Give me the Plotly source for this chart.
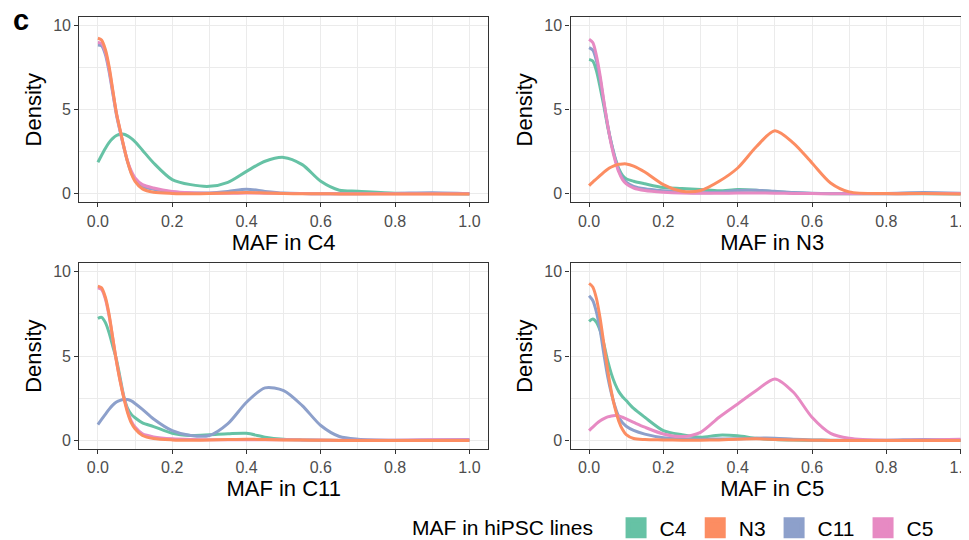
import plotly.graph_objects as go

# ---------------- data ----------------
X = [0.00, 0.01, 0.02, 0.03, 0.04, 0.05, 0.06, 0.07, 0.08, 0.09, 0.10, 0.12, 0.15,
     0.20, 0.25, 0.30, 0.35, 0.40, 0.45, 0.50, 0.55, 0.60, 0.65, 0.70, 0.80, 0.90, 1.00]

LINES = ["C4", "N3", "C11", "C5"]            # hiPSC lines (legend order)
PANELS = ["C4", "N3", "C11", "C5"]           # facets: "MAF in ..."
X_TICKS = [0.0, 0.2, 0.4, 0.6, 0.8, 1.0]
Y_TICKS = [0, 5, 10]

# facet "MAF in C4"
C4_C4 = [1.88, 2.30, 2.70, 3.05, 3.30, 3.47, 3.55, 3.55, 3.45, 3.30, 3.10, 2.60, 1.84,
         0.85, 0.55, 0.45, 0.69, 1.34, 1.94, 2.17, 1.74, 0.75, 0.22, 0.16, 0.04, 0.02, 0.00]
C4_N3 = [9.25, 9.15, 8.60, 7.60, 6.20, 4.80, 3.80, 2.80, 1.90, 1.20, 0.75, 0.30, 0.10,
         0.03, 0.01, 0.02, 0.05, 0.08, 0.05, 0.02, 0.01, 0.01, 0.00, 0.00, 0.00, 0.00, 0.00]
C4_C11 = [8.85, 8.80, 8.30, 7.30, 6.00, 4.70, 3.70, 2.75, 1.90, 1.25, 0.85, 0.45, 0.28,
          0.12, 0.06, 0.06, 0.15, 0.28, 0.15, 0.05, 0.02, 0.01, 0.01, 0.01, 0.03, 0.07, 0.02]
C4_C5 = [9.00, 8.95, 8.45, 7.45, 6.10, 4.80, 3.75, 2.80, 1.95, 1.35, 0.95, 0.55, 0.35,
         0.15, 0.07, 0.04, 0.04, 0.05, 0.04, 0.03, 0.02, 0.01, 0.01, 0.01, 0.01, 0.01, 0.01]

# facet "MAF in N3"
N3_C4 = [8.00, 7.90, 7.30, 6.30, 5.20, 4.00, 3.00, 2.15, 1.50, 1.10, 0.90, 0.75, 0.60,
         0.38, 0.32, 0.26, 0.18, 0.26, 0.22, 0.12, 0.06, 0.03, 0.01, 0.01, 0.01, 0.01, 0.00]
N3_N3 = [0.49, 0.70, 0.90, 1.10, 1.30, 1.47, 1.60, 1.70, 1.76, 1.78, 1.78, 1.65, 1.30,
         0.55, 0.16, 0.20, 0.75, 1.54, 2.80, 3.75, 3.02, 1.84, 0.65, 0.12, 0.02, 0.02, 0.00]
N3_C11 = [8.70, 8.55, 7.90, 6.80, 5.40, 4.10, 3.00, 2.10, 1.40, 0.95, 0.70, 0.45, 0.30,
          0.18, 0.10, 0.07, 0.10, 0.20, 0.22, 0.15, 0.08, 0.04, 0.02, 0.02, 0.03, 0.08, 0.04]
N3_C5 = [9.20, 9.00, 8.20, 7.00, 5.50, 4.10, 2.90, 2.00, 1.30, 0.85, 0.60, 0.35, 0.20,
         0.10, 0.05, 0.04, 0.04, 0.05, 0.05, 0.04, 0.03, 0.02, 0.01, 0.01, 0.01, 0.02, 0.02]

# facet "MAF in C11"
C11_C4 = [7.24, 7.30, 7.00, 6.40, 5.60, 4.80, 3.70, 2.60, 1.90, 1.55, 1.35, 1.05, 0.83,
          0.43, 0.30, 0.34, 0.40, 0.43, 0.20, 0.08, 0.04, 0.02, 0.01, 0.00, 0.00, 0.00, 0.00]
C11_N3 = [9.15, 9.05, 8.50, 7.50, 6.10, 4.70, 3.50, 2.50, 1.65, 1.05, 0.70, 0.30, 0.12,
          0.04, 0.02, 0.03, 0.06, 0.08, 0.06, 0.04, 0.03, 0.02, 0.01, 0.01, 0.00, 0.00, 0.00]
C11_C11 = [0.95, 1.25, 1.55, 1.85, 2.10, 2.28, 2.38, 2.43, 2.43, 2.35, 2.20, 1.85, 1.28,
           0.59, 0.30, 0.30, 1.00, 2.27, 3.12, 2.96, 2.07, 0.89, 0.24, 0.08, 0.02, 0.04, 0.06]
C11_C5 = [9.05, 8.95, 8.40, 7.40, 6.05, 4.70, 3.55, 2.55, 1.75, 1.15, 0.80, 0.40, 0.22,
          0.10, 0.06, 0.05, 0.05, 0.05, 0.05, 0.05, 0.04, 0.03, 0.02, 0.02, 0.02, 0.05, 0.05]

# facet "MAF in C5"
C5_C4 = [7.06, 7.20, 7.00, 6.50, 5.70, 4.73, 3.95, 3.35, 2.90, 2.60, 2.37, 1.90, 1.38,
         0.59, 0.34, 0.20, 0.32, 0.28, 0.14, 0.06, 0.03, 0.02, 0.01, 0.01, 0.00, 0.00, 0.00]
C5_N3 = [9.31, 9.10, 8.40, 7.20, 5.70, 4.20, 2.90, 1.90, 1.15, 0.65, 0.35, 0.12, 0.06,
         0.04, 0.02, 0.02, 0.04, 0.08, 0.10, 0.07, 0.04, 0.02, 0.01, 0.00, 0.00, 0.00, 0.00]
C5_C11 = [8.58, 8.30, 7.60, 6.50, 5.10, 3.80, 2.80, 2.00, 1.40, 1.05, 0.85, 0.60, 0.38,
          0.17, 0.10, 0.08, 0.09, 0.10, 0.14, 0.14, 0.08, 0.04, 0.02, 0.02, 0.02, 0.07, 0.04]
C5_C5 = [0.59, 0.80, 1.00, 1.17, 1.30, 1.40, 1.46, 1.48, 1.46, 1.38, 1.28, 1.08, 0.79,
         0.39, 0.24, 0.49, 1.38, 2.17, 2.96, 3.65, 2.86, 1.38, 0.43, 0.14, 0.02, 0.04, 0.08]

DATA = {
    "C4": {"C4": C4_C4, "N3": C4_N3, "C11": C4_C11, "C5": C4_C5},
    "N3": {"C4": N3_C4, "N3": N3_N3, "C11": N3_C11, "C5": N3_C5},
    "C11": {"C4": C11_C4, "N3": C11_N3, "C11": C11_C11, "C5": C11_C5},
    "C5": {"C4": C5_C4, "N3": C5_N3, "C11": C5_C11, "C5": C5_C5},
}

# ---------------- style ----------------
COLORS = {"C4": "#66C2A5", "N3": "#FC8D62", "C11": "#8DA0CB", "C5": "#E78AC3"}
FONT = "Liberation Sans, Arial, Helvetica, sans-serif"
W, H = 969, 540
OFF = 8  # page body margin: figure is drawn 8 px right/down of the window corner


def px(v):   # window x pixel -> paper fraction
    return (v - OFF) / W


def py(v):   # window y pixel -> paper fraction
    return 1 - (v - OFF) / H


DRAW_ORDER = ["C4", "C11", "C5", "N3"]
AXES = [("x", "y"), ("x2", "y2"), ("x3", "y3"), ("x4", "y4")]

fig = go.Figure()
for panel, (xa, ya) in zip(PANELS, AXES):
    for ln in DRAW_ORDER:
        fig.add_trace(go.Scatter(
            x=X, y=DATA[panel][ln], mode="lines", xaxis=xa, yaxis=ya,
            line=dict(color=COLORS[ln], width=3.0, shape="spline", smoothing=0.8),
            showlegend=False, hoverinfo="skip"))

for ln in LINES:
    fig.add_trace(go.Scatter(
        x=[None], y=[None], mode="markers", name=ln,
        marker=dict(symbol="square", size=16, color=COLORS[ln],
                    line=dict(color=COLORS[ln], width=5)),
        showlegend=True))

# domains (measured on the reference window)
SCALE = 408.7 / 1.1
L_X = [px(79.3), px(488.0)]
R_X = [px(570.5), px(974.0)]
T_Y = [py(202.3), py(17.3)]
B_Y = [py(449.0), py(263.3)]
R_RIGHT = -0.05 + (974.0 - 570.5) / SCALE


def xaxis(domain, anchor, title, rng):
    return dict(
        domain=domain, anchor=anchor, range=rng,
        tickmode="array", tickvals=X_TICKS, ticktext=[f"{v:.1f}" for v in X_TICKS],
        ticks="outside", ticklen=4, tickwidth=1.1, tickcolor="#333333",
        tickfont=dict(size=16, color="#4D4D4D", family=FONT),
        ticklabeloverflow="allow",
        showgrid=True, gridcolor="#EBEBEB", gridwidth=1.1,
        minor=dict(tickvals=[0.1, 0.3, 0.5, 0.7, 0.9], showgrid=True,
                   gridcolor="#EBEBEB", gridwidth=0.55, ticks=""),
        zeroline=False, showline=True, linecolor="#333333", linewidth=1.3,
        mirror=True,
        title=dict(text=title, font=dict(size=22, color="#000000", family=FONT), standoff=5),
        fixedrange=True)


def yaxis(domain, anchor):
    return dict(
        domain=domain, anchor=anchor, range=[-0.5, 10.5],
        tickmode="array", tickvals=Y_TICKS, ticktext=[str(v) for v in Y_TICKS],
        ticks="outside", ticklen=4, tickwidth=1.1, tickcolor="#333333",
        tickfont=dict(size=16, color="#4D4D4D", family=FONT),
        showgrid=True, gridcolor="#EBEBEB", gridwidth=1.1,
        minor=dict(tickvals=[2.5, 7.5], showgrid=True,
                   gridcolor="#EBEBEB", gridwidth=0.55, ticks=""),
        zeroline=False, showline=True, linecolor="#333333", linewidth=1.3,
        mirror=True,
        title=dict(text="Density", font=dict(size=22, color="#000000", family=FONT), standoff=5),
        fixedrange=True)


fig.update_layout(
    width=W, height=H,
    margin=dict(l=0, r=0, t=0, b=0, autoexpand=False),
    paper_bgcolor="white", plot_bgcolor="white",
    font=dict(family=FONT, color="#000000"),
    xaxis=xaxis(L_X, "y", "MAF in " + PANELS[0], [-0.05, 1.05]),
    yaxis=yaxis(T_Y, "x"),
    xaxis2=xaxis(R_X, "y2", "MAF in " + PANELS[1], [-0.05, R_RIGHT]),
    yaxis2=yaxis(T_Y, "x2"),
    xaxis3=xaxis(L_X, "y3", "MAF in " + PANELS[2], [-0.05, 1.05]),
    yaxis3=yaxis(B_Y, "x3"),
    xaxis4=xaxis(R_X, "y4", "MAF in " + PANELS[3], [-0.05, R_RIGHT]),
    yaxis4=yaxis(B_Y, "x4"),
    legend=dict(
        orientation="h", x=px(410), xanchor="left", y=py(528), yanchor="middle",
        itemwidth=37,
        font=dict(size=21, family=FONT, color="#000000"),
        title=dict(text="MAF in hiPSC lines\u00a0\u00a0", side="left",
                   font=dict(size=21, family=FONT, color="#000000")),
        bgcolor="rgba(0,0,0,0)", borderwidth=0, itemclick=False, itemdoubleclick=False,
        traceorder="normal"),
    annotations=[dict(text="<b>c</b>", x=px(11), y=py(20.5), xref="paper", yref="paper",
                      xanchor="left", yanchor="middle", showarrow=False,
                      font=dict(size=29, family=FONT, color="#000000"))],
    showlegend=True,
)

fig.write_html("out.html", config={"displayModeBar": False})
